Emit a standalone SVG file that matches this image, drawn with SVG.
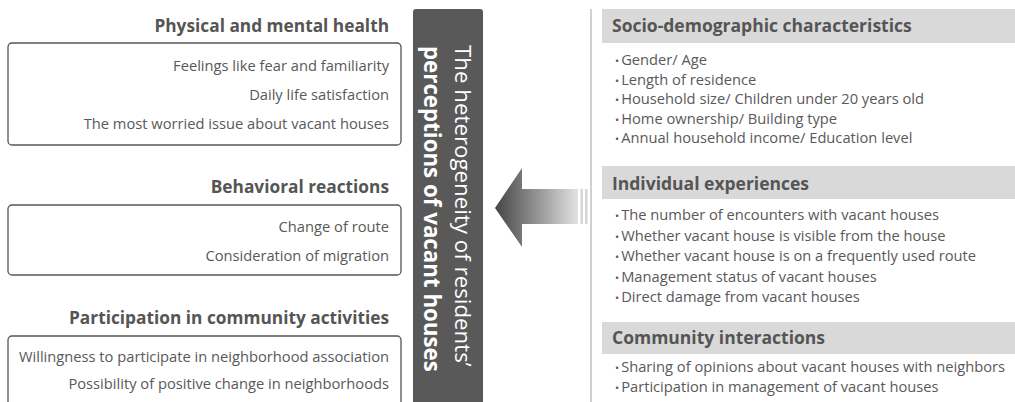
<svg xmlns="http://www.w3.org/2000/svg" width="1015" height="402" viewBox="0 0 1015 402">
<defs>
<linearGradient id="arrowGrad" x1="495" y1="0" x2="578" y2="0" gradientUnits="userSpaceOnUse">
<stop offset="0" stop-color="#454545"/>
<stop offset="1" stop-color="#e2e2e2"/>
</linearGradient>
<style>
text{font-family:"Open Sans","Liberation Sans",sans-serif;}
.title{font-size:17.3px;font-weight:bold;fill:#555555;}
.rtitle{font-size:17.5px;font-weight:bold;fill:#555555;}
.item{font-size:14.7px;fill:#595959;}
.b{font-size:11px;}
.box{fill:none;stroke:#555555;stroke-width:1.3;}
.band{fill:#d9d9d9;}
.bar{fill:#595959;}
.center{font-size:22.3px;fill:#ffffff;}
</style>
</defs>
<rect width="1015" height="402" fill="#ffffff"/>

<g id="physical-health">
<text class="title" x="389" y="32" text-anchor="end">Physical and mental health</text>
<rect class="box" x="8" y="43" width="393" height="102" rx="4"/>
<text class="item" x="389" y="71" text-anchor="end">Feelings like fear and familiarity</text>
<text class="item" x="389" y="100" text-anchor="end">Daily life satisfaction</text>
<text class="item" x="389" y="129" text-anchor="end">The most worried issue about vacant houses</text>
</g>

<g id="behavioral-reactions">
<text class="title" x="389" y="193" text-anchor="end">Behavioral reactions</text>
<rect class="box" x="8" y="205" width="393" height="70" rx="4"/>
<text class="item" x="389" y="232" text-anchor="end">Change of route</text>
<text class="item" x="389" y="261" text-anchor="end">Consideration of migration</text>
</g>

<g id="community-participation">
<text class="title" x="389" y="324" text-anchor="end">Participation in community activities</text>
<rect class="box" x="8" y="336" width="393" height="80" rx="4"/>
<text class="item" x="389" y="362" text-anchor="end">Willingness to participate in neighborhood association</text>
<text class="item" x="389" y="389" text-anchor="end">Possibility of positive change in neighborhoods</text>
</g>

<g id="perceptions">
<path class="bar" d="M413,12 Q413,9 416,9 L480,9 Q483,9 483,12 L483,402 L413,402 Z"/>
<text class="center" transform="translate(455,45) rotate(90)">The heterogeneity of residents’</text>
<text class="center" font-weight="bold" transform="translate(424,46) rotate(90)">perceptions of vacant houses</text>
</g>

<g id="connectors">
<polygon points="495,208 522,168 522,189 578,189 578,224 522,224 522,247" fill="url(#arrowGrad)"/>
<rect x="580.5" y="189" width="2.5" height="35" fill="#d6d6d6"/>
<rect x="585" y="189" width="2.5" height="35" fill="#d6d6d6"/>
<line x1="591" y1="9" x2="591" y2="402" stroke="#d0d0d0" stroke-width="2"/>
</g>

<g id="socio-demographic">
<rect class="band" x="602" y="9" width="413" height="34"/>
<text class="rtitle" x="612" y="32">Socio-demographic characteristics</text>
<text class="item" x="615" y="65"><tspan class="b">•</tspan><tspan dx="2">Gender/ Age</tspan></text>
<text class="item" x="615" y="84.5"><tspan class="b">•</tspan><tspan dx="2">Length of residence</tspan></text>
<text class="item" x="615" y="104"><tspan class="b">•</tspan><tspan dx="2">Household size/ Children under 20 years old</tspan></text>
<text class="item" x="615" y="123.5"><tspan class="b">•</tspan><tspan dx="2">Home ownership/ Building type</tspan></text>
<text class="item" x="615" y="143"><tspan class="b">•</tspan><tspan dx="2">Annual household income/ Education level</tspan></text>
</g>

<g id="individual-experiences">
<rect class="band" x="602" y="166" width="413" height="33"/>
<text class="rtitle" x="612" y="190">Individual experiences</text>
<text class="item" x="615" y="220"><tspan class="b">•</tspan><tspan dx="2">The number of encounters with vacant houses</tspan></text>
<text class="item" x="615" y="240.5"><tspan class="b">•</tspan><tspan dx="2">Whether vacant house is visible from the house</tspan></text>
<text class="item" x="615" y="261"><tspan class="b">•</tspan><tspan dx="2">Whether vacant house is on a frequently used route</tspan></text>
<text class="item" x="615" y="281.5"><tspan class="b">•</tspan><tspan dx="2">Management status of vacant houses</tspan></text>
<text class="item" x="615" y="302"><tspan class="b">•</tspan><tspan dx="2">Direct damage from vacant houses</tspan></text>
</g>

<g id="community-interactions">
<rect class="band" x="602" y="322" width="413" height="32"/>
<text class="rtitle" x="612" y="344">Community interactions</text>
<text class="item" x="615" y="372"><tspan class="b">•</tspan><tspan dx="2">Sharing of opinions about vacant houses with neighbors</tspan></text>
<text class="item" x="615" y="392"><tspan class="b">•</tspan><tspan dx="2">Participation in management of vacant houses</tspan></text>
</g>
</svg>
